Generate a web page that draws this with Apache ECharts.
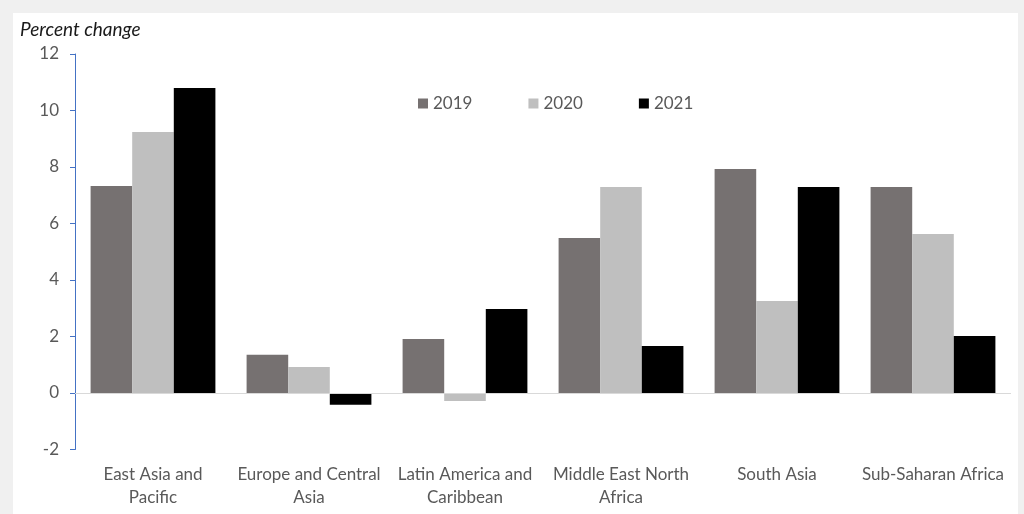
<!DOCTYPE html>
<html>
<head>
<meta charset="utf-8">
<script src="https://cdn.jsdelivr.net/npm/echarts@6/dist/echarts.min.js"></script>
<style>
  html, body { margin: 0; padding: 0; width: 1024px; height: 514px; background: #f0f0f0; overflow: hidden; }
  #chart { position: absolute; left: 13px; top: 13px; width: 1005px; height: 501px; background: #ffffff; }
</style>
</head>
<body>
<div id="chart"></div>
<script>
// Regional growth, percent change by year
const regions = [
  'East Asia and\nPacific',
  'Europe and Central\nAsia',
  'Latin America and\nCaribbean',
  'Middle East North\nAfrica',
  'South Asia',
  'Sub-Saharan Africa'
];
const years = ['2019', '2020', '2021'];
const values2019 = [7.33, 1.35, 1.91, 5.49, 7.93, 7.29];
const values2020 = [9.24, 0.92, -0.28, 7.29, 3.26, 5.63];
const values2021 = [10.8, -0.42, 2.97, 1.66, 7.29, 2.02];
const yTicks = { min: -2, max: 12, interval: 2 };

const colors = ['#767171', '#bfbfbf', '#000000'];
const font = 'Lato, "Open Sans", sans-serif';

const chart = echarts.init(document.getElementById('chart'));

const seriesData = [values2019, values2020, values2021];
const series = years.map((y, i) => ({
  name: y,
  type: 'bar',
  data: seriesData[i],
  barGap: '0%',
  barCategoryGap: '20%',
  itemStyle: { color: colors[i] },
  silent: true,
  markLine: i === 0 ? {
    silent: true,
    symbol: 'none',
    label: { show: false },
    lineStyle: { color: '#d9d9d9', width: 1, type: 'solid' },
    data: [{ yAxis: 0 }]
  } : undefined
}));

chart.setOption({
  animation: false,
  color: colors,
  title: {
    text: 'Percent change',
    left: 2,
    top: 2,
    textStyle: { fontFamily: font, fontStyle: 'italic', fontWeight: 'normal', fontSize: 19, color: '#1a1a1a' }
  },
  legend: {
    data: years,
    left: 400,
    top: 77,
    icon: 'rect',
    itemWidth: 10,
    itemHeight: 10,
    itemGap: 56,
    textStyle: { fontFamily: font, fontSize: 17, color: '#595959' }
  },
  grid: { left: 62, right: 7, top: 41, bottom: 64.5 },
  xAxis: {
    type: 'category',
    data: regions,
    axisLine: { show: false },
    axisTick: { show: false },
    axisLabel: {
      margin: 14,
      fontFamily: font,
      fontSize: 17,
      color: '#595959',
      lineHeight: 23,
      interval: 0
    }
  },
  yAxis: {
    type: 'value',
    min: yTicks.min,
    max: yTicks.max,
    interval: yTicks.interval,
    axisLine: { show: true, lineStyle: { color: '#4472c4', width: 1 } },
    axisTick: { show: true, length: 5, lineStyle: { color: '#4472c4' } },
    splitLine: { show: false },
    axisLabel: { margin: 16, fontFamily: font, fontSize: 17, color: '#595959' }
  },
  series: series
});
</script>
</body>
</html>
